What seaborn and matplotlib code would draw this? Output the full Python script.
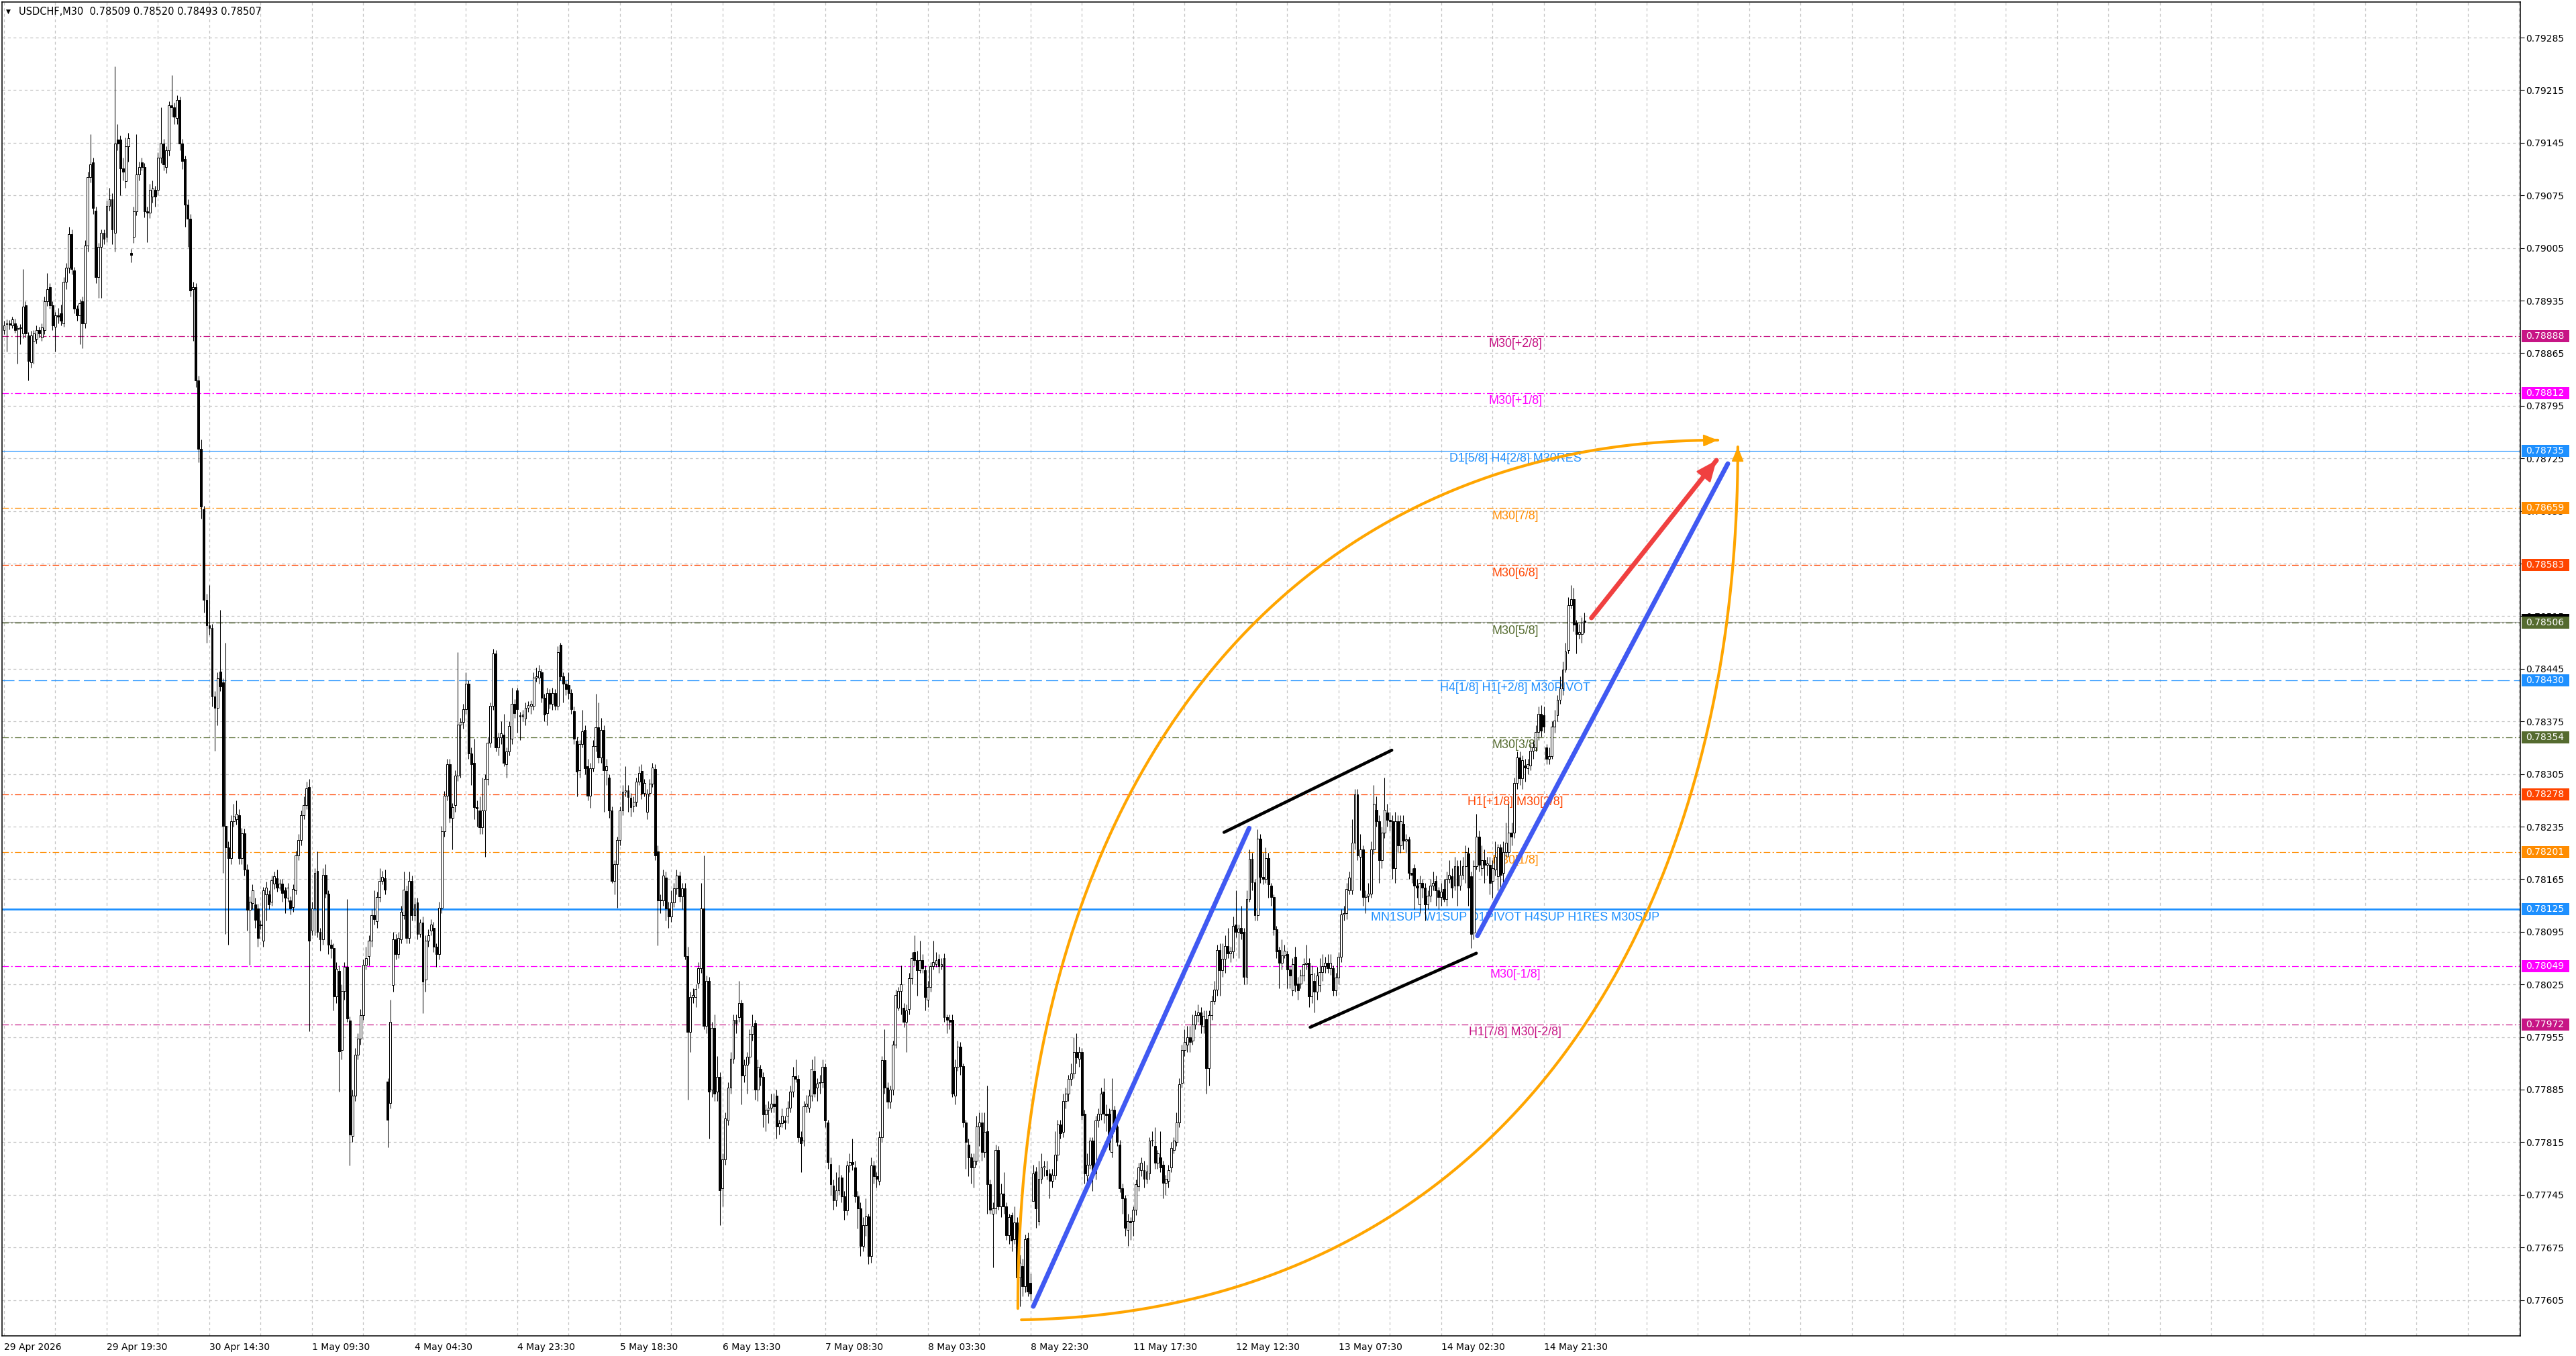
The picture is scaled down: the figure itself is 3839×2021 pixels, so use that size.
import numpy as np
import pandas as pd
import matplotlib
matplotlib.use("Agg")
import matplotlib.pyplot as plt
from matplotlib.patches import Rectangle
from matplotlib.ticker import MultipleLocator
import seaborn as sns

# ---------------- candle data (points, 1 point = 0.00001) ----------------
opens = [
78896,78904,78905,78902,78905,78897,78898,78891,78929,78889,
78853,78881,78884,78896,78886,78896,78934,78953,78929,78900,
78915,78918,78905,78960,78979,79023,78975,78924,78915,78934,
78905,79008,79099,79119,79055,78966,79006,79025,79020,79061,
79070,79025,79149,79149,79111,79094,79140,78998,79020,79054,
79103,79119,79113,79054,79052,79073,79082,79082,79125,79144,
79113,79135,79195,79192,79178,79202,79144,79123,79063,79044,
78950,78953,78829,78738,78657,78537,78503,78499,78408,78393,
78441,78427,78236,78207,78193,78242,78245,78250,78193,78226,
78178,78124,78133,78131,78126,78105,78083,78145,78145,
78135,78159,78166,78154,78159,78150,78140,78137,78128,78150,
78197,78217,78250,78264,78288,78097,78126,78176,78095,78085,
78171,78146,78078,78073,78009,78043,77938,78016,78048,77977,
77823,77877,77931,77953,77984,78051,78063,78083,78117,78109,
78141,78163,78166,77896,77867,78024,78085,78065,78085,78117,
78149,78087,78163,78117,78134,78092,78107,78031,78083,78097,
78100,78075,78065,78127,78229,78276,78318,78247,78264,78303,
78371,78374,78391,78425,78332,78320,78261,78256,78234,78256,
78298,78347,78396,78465,78340,78354,78357,78318,78335,78352,
78398,78416,78383,78381,78379,78393,78396,78396,78433,78433,
78440,78406,78386,78413,78398,78413,78396,78477,78435,78425,
78423,78413,78389,78349,78310,78345,78364,78315,78276,78313,
78342,78367,78327,78364,78310,78300,78256,78163,78185,78217,
78256,78281,78283,78273,78263,78268,78295,78309,78280,78255,
78280,78292,78312,78202,78137,78137,78167,78126,78115,78134,
78153,78170,78142,78153,78063,77962,78008,78008,78027,78047,
78126,77970,78030,77885,77967,77882,77902,77754,77792,77844,
77888,77926,77978,77981,78000,77904,77918,77929,77959,77973,
77885,77913,77902,77852,77858,77861,77866,77877,77836,77840,
77844,77850,77861,77882,77903,77899,77822,77817,77863,77861,
77877,77910,77888,77894,77895,77915,77841,77786,77757,
77738,77751,77768,77743,77724,77784,77789,77781,77743,77727,
77677,77705,77716,77664,77784,77770,77764,77822,77924,77888,
77869,77885,77945,77994,78016,77994,77975,77992,78033,78068,
78057,78044,78057,78044,78005,78022,78049,78052,78059,78049,
78060,77981,77978,77978,77877,77915,77942,77916,77841,77812,
77795,77781,77790,77836,77841,77802,77830,77759,77720,77727,
77805,77730,77747,77730,77691,77718,77686,77708,77635,77650,
77623,77688,77628,77737,77776,77710,77766,77781,77778,77773,
77764,77771,77798,77839,77829,77870,77880,77899,77906,77935,
77926,77935,77853,77771,77785,77817,77773,77844,77853,77882,
77853,77853,77802,77858,77836,77812,77754,77740,77698,77710,
77710,77725,77756,77778,77778,77766,77773,77817,77810,
77788,77795,77785,77761,77764,77781,77805,77815,77841,77894,
77938,77945,77955,77950,77972,77984,77988,77969,77979,77914,
77984,78003,78018,78071,78044,78059,78076,78066,78069,78105,
78095,78100,78095,78035,78139,78192,78161,78117,78219,78168,
78165,78193,78156,78141,78098,78071,78054,78064,78065,78045,
78017,78062,78026,78026,78037,78052,78054,78009,78030,78015,
78024,78041,78049,78054,78047,78047,78017,78034,78062,78118,
78120,78150,78150,78214,78278,78195,78205,78141,78143,78146,
78205,78257,78242,78190,78227,78254,78244,78242,78180,78242,
78210,78239,78216,78218,78173,78180,78156,78131,78160,78154,
78131,78143,78156,78163,78150,78141,78152,78139,78165,78169,
78156,78182,78156,78171,78182,78199,78169,78094,78182,78222,
78180,78190,78184,78184,78163,78178,78169,78207,78173,78201,
78201,78227,78227,78293,78327,78299,78316,78313,78316,
78336,78340,78361,78385,78383,78340,78325,78329,78368,78383,
78404,78419,78444,78470,78530,78538,78506,78491,78491,78509]

highs = [
78908,78910,78909,78914,78911,78902,78904,78977,78934,78893,
78895,78896,78902,78900,78905,78940,78972,78958,78934,78920,
78925,78930,78966,78985,79033,79030,78980,78929,78937,78940,
79015,79106,79156,79125,79060,79012,79030,79030,79068,79085,
79078,79247,79170,79155,79125,79152,79158,79004,79060,79156,
79120,79125,79118,79060,79090,79095,79088,79132,79192,79150,
79140,79200,79235,79198,79208,79206,79150,79128,79070,79050,
78960,78958,78835,78750,78662,78545,78556,78505,78415,78440,
78523,78432,78480,78215,78250,78265,78270,78258,78233,78232,
78185,78142,78158,78140,78132,78110,78155,78162,78150,
78170,78175,78178,78165,78165,78155,78160,78142,78158,78203,
78225,78256,78275,78295,78298,78135,78180,78202,78100,78180,
78185,78150,78085,78080,78055,78050,78025,78055,78139,77982,
77885,77940,77960,77992,78058,78075,78090,78125,78150,78148,
78180,78176,78178,77900,78005,78095,78092,78095,78130,78175,
78156,78175,78170,78140,78140,78112,78115,78090,78098,78112,
78108,78080,78135,78236,78282,78325,78325,78266,78310,78467,
78380,78398,78440,78430,78340,78352,78270,78275,78300,78305,
78355,78400,78472,78470,78360,78375,78385,78340,78375,78420,
78405,78420,78388,78390,78400,78402,78403,78440,78447,78450,
78445,78412,78420,78418,78420,78418,78475,78480,78440,78430,
78440,78418,78395,78355,78350,78390,78370,78325,78320,78350,
78412,78400,78380,78370,78325,78305,78262,78190,78222,78262,
78290,78315,78290,78280,78275,78300,78315,78318,78298,78285,
78298,78320,78318,78210,78145,78178,78175,78135,78150,78160,
78178,78175,78160,78160,78075,78015,78020,78025,78055,78160,
78197,78037,78035,77975,77985,77930,77908,77800,77855,77895,
77935,77985,77985,78030,78005,77925,77935,77965,77985,77978,
77925,77918,77908,77865,77870,77880,77880,77885,77845,77860,
77850,77870,77890,77915,77925,77905,77830,77870,77878,77885,
77925,77930,77900,77905,77925,77920,77845,77795,77765,
77775,77785,77772,77750,77790,77800,77820,77790,77750,77735,
77715,77740,77720,77795,77790,77775,77830,77930,77965,77895,
77890,77950,78018,78022,78050,78000,77998,78040,78068,78090,
78070,78083,78065,78050,78030,78055,78083,78068,78065,78060,
78066,77985,77985,77985,77925,77950,77948,77920,77845,77820,
77800,77800,77850,77855,77855,77855,77890,77765,77735,77812,
77810,77760,77775,77735,77720,77722,77730,77715,77665,77660,
77692,77695,77640,77785,77782,77790,77800,77790,77790,77780,
77780,77830,77845,77845,77880,77888,77905,77920,77955,77960,
77942,77940,77858,77800,77822,77822,77850,77860,77888,77900,
77865,77860,77900,77864,77842,77818,77760,77745,77720,77715,
77730,77765,77788,77795,77790,77785,77822,77830,77835,
77805,77830,77790,77772,77785,77815,77822,77855,77900,77945,
77965,77970,77970,77985,77990,77998,77995,77990,77990,77990,
78010,78030,78078,78080,78080,78090,78100,78075,78115,78150,
78105,78130,78100,78150,78205,78200,78165,78231,78225,78200,
78207,78200,78160,78145,78103,78075,78085,78078,78070,78050,
78060,78075,78035,78045,78060,78078,78060,78050,78040,78048,
78060,78065,78062,78065,78065,78050,78040,78068,78125,78130,
78160,78175,78245,78285,78285,78225,78210,78150,78160,78215,
78290,78275,78250,78235,78300,78265,78255,78250,78255,78250,
78250,78250,78225,78222,78180,78185,78165,78170,78165,78160,
78150,78165,78175,78170,78155,78160,78165,78175,78190,78180,
78195,78190,78190,78195,78210,78207,78175,78190,78252,78230,
78210,78205,78195,78195,78190,78215,78212,78212,78215,78240,
78265,78240,78300,78335,78335,78330,78325,78325,78345,
78348,78370,78395,78397,78395,78345,78340,78375,78390,78410,
78435,78455,78480,78540,78556,78553,78510,78505,78514,78520]

lows = [
78890,78867,78897,78898,78892,78851,78877,78885,78886,78829,
78846,78851,78878,78886,78881,78890,78928,78924,78896,78867,
78905,78902,78900,78950,78972,78970,78918,78908,78877,78872,
78898,79000,79092,79050,78958,78939,78939,79010,79013,79055,
79010,79000,79135,79075,79095,79085,79120,78986,79012,79048,
79095,79108,79046,79013,79045,79065,79060,79075,79118,79108,
79105,79128,79180,79170,79170,79135,79110,79033,79006,78940,
78881,78820,78720,78645,78520,78480,78490,78395,78336,78370,
78415,78173,78092,78078,78185,78235,78238,78185,78185,78170,
78097,78051,78125,78100,78075,78098,78075,78110,78125,
78130,78152,78148,78150,78135,78120,78135,78118,78122,78145,
78190,78210,78245,78258,77963,78090,78090,78088,78070,78078,
78140,78065,78060,77990,78000,77882,77925,78005,77975,77784,
77815,77870,77925,77945,77978,78045,78050,78075,78105,78100,
78135,78158,78145,77808,77860,78015,78058,78060,78080,78112,
78080,78080,78110,78110,78085,78088,77987,78015,78075,78090,
78068,78048,78058,78120,78222,78270,78240,78205,78255,78296,
78300,78365,78385,78325,78290,78245,78235,78225,78225,78195,
78290,78340,78390,78335,78330,78345,78315,78300,78330,78345,
78380,78360,78350,78375,78370,78388,78385,78390,78428,78425,
78400,78375,78370,78392,78390,78390,78390,78430,78400,78410,
78405,78385,78345,78275,78300,78340,78305,78270,78260,78308,
78335,78320,78320,78255,78290,78247,78160,78145,78127,78210,
78250,78275,78255,78248,78255,78262,78290,78272,78275,78245,
78275,78288,78190,78077,78120,78130,78110,78100,78108,78128,
78145,78135,78125,78058,77872,77935,78000,77995,78020,78040,
77965,77960,77820,77875,77870,77870,77705,77730,77785,77838,
77880,77920,77960,77975,77865,77895,77880,77920,77950,77872,
77870,77890,77835,77830,77840,77855,77855,77820,77825,77835,
77832,77840,77855,77875,77895,77815,77775,77810,77855,77855,
77870,77875,77870,77880,77888,77835,77780,77745,77725,
77730,77745,77735,77712,77718,77775,77778,77735,77700,77664,
77670,77690,77653,77655,77760,77755,77758,77815,77880,77860,
77860,77878,77940,77990,77985,77968,77935,77985,78025,78050,
78010,78040,78040,77990,77995,78015,78045,78048,78040,78045,
77975,77960,77965,77875,77865,77910,77905,77835,77780,77770,
77760,77755,77785,77810,77790,77795,77720,77720,77648,77720,
77725,77715,77720,77685,77680,77670,77680,77620,77597,77610,
77615,77610,77605,77737,77701,77705,77760,77770,77765,77740,
77755,77765,77790,77820,77822,77860,77870,77890,77900,77920,
77915,77845,77760,77760,77780,77750,77765,77835,77845,77840,
77830,77805,77795,77830,77810,77748,77720,77690,77677,77685,
77690,77718,77750,77770,77755,77760,77765,77810,77780,
77780,77775,77740,77745,77755,77775,77800,77810,77835,77888,
77930,77935,77935,77945,77965,77975,77960,77960,77880,77890,
77978,77998,78010,78010,78035,78040,78060,78055,78060,78088,
78060,78085,78025,78025,78135,78150,78110,78110,78160,78158,
78160,78140,78130,78090,78060,78020,78045,78060,78020,78020,
78010,78015,78005,78020,78030,78045,77995,78000,77988,78005,
78015,78030,78040,78040,78038,78010,78010,78025,78055,78110,
78112,78145,78145,78205,78190,78150,78130,78120,78135,78140,
78198,78235,78160,78180,78220,78235,78230,78165,78160,78200,
78200,78205,78200,78165,78160,78125,78140,78120,78140,78110,
78125,78135,78150,78130,78125,78130,78135,78130,78160,78140,
78150,78130,78150,78165,78160,78130,78073,78085,78178,78175,
78170,78160,78170,78145,78140,78170,78150,78150,78160,78195,
78195,78210,78220,78285,78290,78285,78295,78305,78310,
78325,78335,78350,78355,78360,78318,78318,78325,78360,78375,
78398,78410,78440,78465,78525,78495,78465,78485,78480,78493]

closes = [
78902,78905,78903,78910,78896,78898,78899,78927,78891,78855,
78889,78891,78896,78891,78899,78934,78950,78929,78902,78915,
78914,78908,78960,78979,79023,78977,78924,78915,78931,78905,
79008,79099,79116,79058,78966,79006,79025,79017,79061,79070,
79030,79144,79144,79111,79106,79140,79151,78996,79054,79103,
79113,79113,79054,79052,79082,79084,79073,79125,79144,79116,
79135,79195,79192,79180,79202,79144,79121,79063,79044,78948,
78953,78829,78738,78661,78537,78503,78499,78408,78393,78432,
78422,78236,78207,78193,78242,78248,78252,78193,78226,78178,
78124,78135,78150,78111,78087,78104,78150,78154,78131,
78164,78169,78154,78159,78147,78140,78154,78126,78152,78197,
78217,78250,78264,78286,78083,78126,78173,78095,78085,78171,
78146,78078,78073,78009,78046,77936,78016,78048,77980,77825,
77877,77931,77953,77984,78051,78060,78083,78117,78112,78141,
78163,78168,78151,77845,77975,78085,78065,78087,78122,78151,
78087,78163,78117,78131,78092,78107,78029,78083,78090,78105,
78075,78065,78127,78229,78276,78318,78247,78261,78303,78371,
78374,78391,78425,78332,78318,78261,78259,78234,78256,78298,
78347,78396,78465,78340,78354,78359,78320,78335,78369,78398,
78386,78391,78381,78384,78393,78397,78398,78433,78435,78442,
78406,78384,78413,78398,78413,78396,78467,78435,78425,78418,
78413,78391,78352,78308,78345,78362,78313,78276,78313,78342,
78367,78327,78364,78310,78315,78256,78163,78185,78217,78256,
78281,78283,78274,78261,78268,78295,78306,78279,78293,78279,
78292,78314,78197,78137,78138,78170,78126,78115,78134,78153,
78170,78142,78153,78063,77962,78008,78011,78019,78047,78126,
77970,78030,77882,77967,77880,77902,77751,77792,77847,77888,
77926,77978,77973,78000,77904,77918,77929,77959,77970,77885,
77915,77902,77852,77858,77861,77866,77863,77836,77840,77850,
77841,77861,77882,77903,77899,77822,77814,77863,77866,77877,
77913,77880,77893,77895,77915,77844,77789,77759,77738,
77751,77768,77743,77724,77784,77789,77786,77743,77727,77677,
77705,77716,77664,77784,77770,77766,77822,77924,77888,77869,
77885,77945,78011,78016,78025,77975,77990,78033,78060,78057,
78044,78057,78047,78008,78022,78049,78055,78057,78049,78052,
77981,77978,77975,77880,77915,77942,77916,77841,77815,77795,
77781,77790,77836,77841,77802,77829,77759,77725,77727,77805,
77730,77747,77730,77691,77715,77684,77708,77635,77655,77623,
77686,77616,77614,77773,77727,77766,77781,77783,77771,77764,
77772,77798,77839,77827,77870,77880,77899,77906,77935,77928,
77935,77851,77773,77785,77817,77773,77844,77853,77880,77853,
77851,77815,77858,77836,77815,77754,77740,77701,77710,77708,
77725,77759,77781,77788,77766,77776,77817,77818,77788,
77800,77781,77761,77766,77778,77807,77817,77841,77892,77938,
77948,77955,77948,77972,77984,77988,77972,77983,77914,77984,
78003,78018,78071,78044,78059,78076,78066,78069,78103,78095,
78099,78093,78035,78139,78192,78161,78117,78219,78168,78165,
78193,78158,78141,78098,78069,78054,78064,78070,78045,78037,
78052,78024,78017,78037,78052,78054,78009,78039,78015,78037,
78041,78049,78054,78047,78054,78017,78034,78062,78118,78120,
78152,78167,78214,78278,78197,78205,78141,78143,78146,78205,
78265,78242,78190,78227,78257,78244,78242,78180,78242,78210,
78242,78216,78218,78173,78171,78156,78154,78160,78154,78131,
78143,78156,78160,78150,78141,78148,78139,78165,78171,78154,
78182,78156,78171,78182,78201,78154,78092,78182,78222,78184,
78190,78184,78186,78160,78180,78195,78207,78171,78201,78214,
78227,78222,78293,78327,78299,78323,78314,78318,78336,
78340,78361,78385,78363,78368,78325,78329,78368,78376,78404,
78419,78444,78468,78530,78538,78504,78491,78494,78506,78507]

time_labels = ["29 Apr 2026", "29 Apr 19:30", "30 Apr 14:30", "1 May 09:30",
               "4 May 04:30", "4 May 23:30", "5 May 18:30", "6 May 13:30",
               "7 May 08:30", "8 May 03:30", "8 May 22:30", "11 May 17:30",
               "12 May 12:30", "13 May 07:30", "14 May 02:30", "14 May 21:30"]
bars_per_label = 38
bars_per_grid = 19

y_tick_values = [0.77605, 0.77675, 0.77745, 0.77815, 0.77885, 0.77955, 0.78025,
                 0.78095, 0.78165, 0.78235, 0.78305, 0.78375, 0.78445, 0.78515,
                 0.78585, 0.78655, 0.78725, 0.78795, 0.78865, 0.78935, 0.79005,
                 0.79075, 0.79145, 0.79215, 0.79285]

level_prices = [0.78888, 0.78812, 0.78735, 0.78659, 0.78583, 0.78506, 0.78430,
                0.78354, 0.78278, 0.78201, 0.78125, 0.78049, 0.77972]
level_names = ["M30[+2/8]", "M30[+1/8]", "D1[5/8] H4[2/8] M30RES", "M30[7/8]",
               "M30[6/8]", "M30[5/8]", "H4[1/8] H1[+2/8] M30PIVOT", "M30[3/8]",
               "H1[+1/8] M30[2/8]", "M30[1/8]",
               "MN1SUP W1SUP D1PIVOT H4SUP H1RES M30SUP", "M30[-1/8]",
               "H1[7/8] M30[-2/8]"]
level_colors = ["#C71585", "#FF00FF", "#1E90FF", "#FF8C00", "#FF4500", "#556B2F",
                "#1E90FF", "#556B2F", "#FF4500", "#FF8C00", "#1E90FF", "#FF00FF",
                "#C71585"]
level_styles = ["dashdot", "dashdot", "solid", "dashdot", "dashdot", "dashdot",
                "dash", "dashdot", "dashdot", "dashdot", "thick", "dashdot", "dashdot"]
level_label_bar = 559.4

title_text = "USDCHF,M30  0.78509 0.78520 0.78493 0.78507"
bid_price = 0.78507

# drawn objects: (bar index, price)
blue1_x = [381.0, 460.9]
blue1_y = [0.775965, 0.782330]
blue2_x = [545.4, 638.1]
blue2_y = [0.780897, 0.787180]
red_x = [587.6, 633.9]
red_y = [0.785127, 0.787225]
black1_x = [451.6, 513.7]
black1_y = [0.782274, 0.783367]
black2_x = [483.5, 545.0]
black2_y = [0.779680, 0.780665]
arc_up_x = [375.3, 375.3, 477.9, 634.4]
arc_up_y = [0.775938, 0.783082, 0.787493, 0.787493]
arc_low_x = [376.6, 550.4, 641.8, 641.8]
arc_low_y = [0.775787, 0.775894, 0.780849, 0.787403]

# ---------------- style ----------------
sns.set_style("white")
plt.rcParams["font.family"] = ["DejaVu Sans"]
plt.rcParams["lines.scale_dashes"] = False

W, H = 3839, 2021
fig = plt.figure(figsize=(W / 100, H / 100), dpi=100, facecolor="white")
ax_left, ax_right, ax_top, ax_bottom = 3, 3756, 3, 1991
ax = fig.add_axes([ax_left / W, (H - ax_bottom) / H,
                   (ax_right - ax_left) / W, (ax_bottom - ax_top) / H])
ax.set_facecolor("white")

o = np.array(opens) / 1e5
h = np.array(highs) / 1e5
l = np.array(lows) / 1e5
c = np.array(closes) / 1e5
idx = np.arange(len(o))

px_per_bar = 4.026
first_bar_px = 6
xlim = ((ax_left - first_bar_px) / px_per_bar, (ax_right - first_bar_px) / px_per_bar)
px_price = 0.0007 / 78.4
ylim = (0.79285 - (ax_bottom - 56) * px_price, 0.79285 + (56 - ax_top) * px_price)

# level lines
for p, col, st in zip(level_prices, level_colors, level_styles):
    if st == "dashdot":
        ax.axhline(p, color=col, lw=0.9, dashes=(7, 2.5, 1.5, 2.5), zorder=1)
    elif st == "dash":
        ax.axhline(p, color=col, lw=0.9, dashes=(13, 4.5), zorder=1)
    elif st == "solid":
        ax.axhline(p, color=col, lw=0.8, zorder=1)
    else:
        ax.axhline(p, color=col, lw=2.0, zorder=1)
ax.axhline(bid_price, color="#A0A0A0", lw=0.8, zorder=0.9)

for p, name, col in zip(level_prices, level_names, level_colors):
    ax.annotate(name, xy=(level_label_bar, p), xytext=(0, -2.5),
                textcoords="offset points", ha="center", va="top",
                color=col, fontsize=12.9, family=["Liberation Sans", "DejaVu Sans"],
                zorder=2)

# candles
ax.vlines(idx, l, h, color="black", lw=0.75, zorder=3)
bull = c >= o
body_lo = np.minimum(o, c)
body_h = np.maximum(np.abs(c - o), 0.000009)
ax.bar(idx[bull], body_h[bull], bottom=body_lo[bull], width=0.72,
       color="white", edgecolor="black", linewidth=0.7, zorder=3.2)
ax.bar(idx[~bull], body_h[~bull], bottom=body_lo[~bull], width=0.72,
       color="black", edgecolor="black", linewidth=0.7, zorder=3.2)


def bezier(xs, ys, n=400):
    t = np.linspace(0, 1, n)
    b = [(1 - t) ** 3, 3 * t * (1 - t) ** 2, 3 * t ** 2 * (1 - t), t ** 3]
    bx = sum(bi * xi for bi, xi in zip(b, xs))
    by = sum(bi * yi for bi, yi in zip(b, ys))
    return bx, by


def seg(xs, ys, color, lw, z):
    df = pd.DataFrame({"x": xs, "y": ys})
    sns.lineplot(data=df, x="x", y="y", ax=ax, color=color, linewidth=lw,
                 sort=False, estimator=None, zorder=z, solid_capstyle="round")


orange = "#FFA500"
blue = "#4059F2"
red = "#F04040"

ux, uy = bezier(arc_up_x, arc_up_y)
lx, ly = bezier(arc_low_x, arc_low_y)
seg(ux, uy, orange, 3.0, 4)
seg(lx, ly, orange, 3.0, 4)
seg(blue1_x, blue1_y, blue, 5.0, 5)
seg(blue2_x, blue2_y, blue, 5.0, 5)
seg(black1_x, black1_y, "black", 3.3, 5)
seg(black2_x, black2_y, "black", 3.3, 5)
seg(red_x, red_y, red, 5.0, 5)

ax.annotate("", xy=(red_x[1], red_y[1]),
            xytext=(red_x[0] + 0.9 * (red_x[1] - red_x[0]), red_y[0] + 0.9 * (red_y[1] - red_y[0])),
            arrowprops=dict(arrowstyle="-|>,head_length=0.7,head_width=0.3", color=red,
                            lw=2, shrinkA=0, shrinkB=0, mutation_scale=28), zorder=6)
ax.annotate("", xy=(ux[-1], uy[-1]), xytext=(ux[-12], uy[-12]),
            arrowprops=dict(arrowstyle="-|>,head_length=0.6,head_width=0.25", color=orange,
                            lw=1.5, shrinkA=0, shrinkB=0, mutation_scale=22), zorder=6)
ax.annotate("", xy=(lx[-1], ly[-1]), xytext=(lx[-12], ly[-12]),
            arrowprops=dict(arrowstyle="-|>,head_length=0.6,head_width=0.25", color=orange,
                            lw=1.5, shrinkA=0, shrinkB=0, mutation_scale=22), zorder=6)

# axes, ticks, grid
ax.set_xlim(*xlim)
ax.set_ylim(*ylim)
ax.set_xlabel("")
ax.set_ylabel("")
ax.yaxis.tick_right()
ax.set_yticks(y_tick_values)
ax.set_yticklabels([f"{v:.5f}" for v in y_tick_values])
ax.set_xticks([k * bars_per_label for k in range(len(time_labels))])
ax.set_xticklabels(time_labels, ha="left")
ax.xaxis.set_minor_locator(MultipleLocator(bars_per_grid))
ax.tick_params(axis="y", which="major", direction="out", length=4, width=0.8,
               pad=2, labelsize=10, colors="black")
ax.tick_params(axis="x", which="major", direction="out", length=4, width=0.8,
               pad=3, labelsize=10, colors="black")
ax.tick_params(axis="x", which="minor", length=0)
ax.set_axisbelow(True)
ax.grid(True, axis="x", which="both", color="#C4C4C4", lw=0.9, dashes=(3, 3))
ax.grid(True, axis="y", which="major", color="#C4C4C4", lw=0.9, dashes=(3, 3))
for s in ax.spines.values():
    s.set_color("black")
    s.set_linewidth(1.1)

# price boxes on the right axis
trans = ax.get_yaxis_transform()
ax_w = ax_right - ax_left
bx0 = (3758 - ax_left) / ax_w
bw = 71 / ax_w
bh = 18 * px_price
tx = (3764 - ax_left) / ax_w
ax.add_patch(Rectangle((bx0, bid_price + 3 * px_price - bh / 2), bw, bh, transform=trans,
                       facecolor="black", edgecolor="none", clip_on=False, zorder=10))
for p, col in zip(level_prices, level_colors):
    ax.add_patch(Rectangle((bx0, p - bh / 2), bw, bh, transform=trans,
                           facecolor=col, edgecolor="none", clip_on=False, zorder=10))
    ax.text(tx, p, f"{p:.5f}", transform=trans, ha="left", va="center",
            fontsize=10, color="white", zorder=11, clip_on=False)

# title
fig.text(9 / W, 1 - 17 / H, "\u25BC", fontsize=6.5, va="center", ha="left", color="black")
fig.text(28 / W, 1 - 17 / H, title_text, fontsize=10.5, va="center", ha="left", color="black")

fig.savefig("out.png", dpi=100, facecolor="white")
